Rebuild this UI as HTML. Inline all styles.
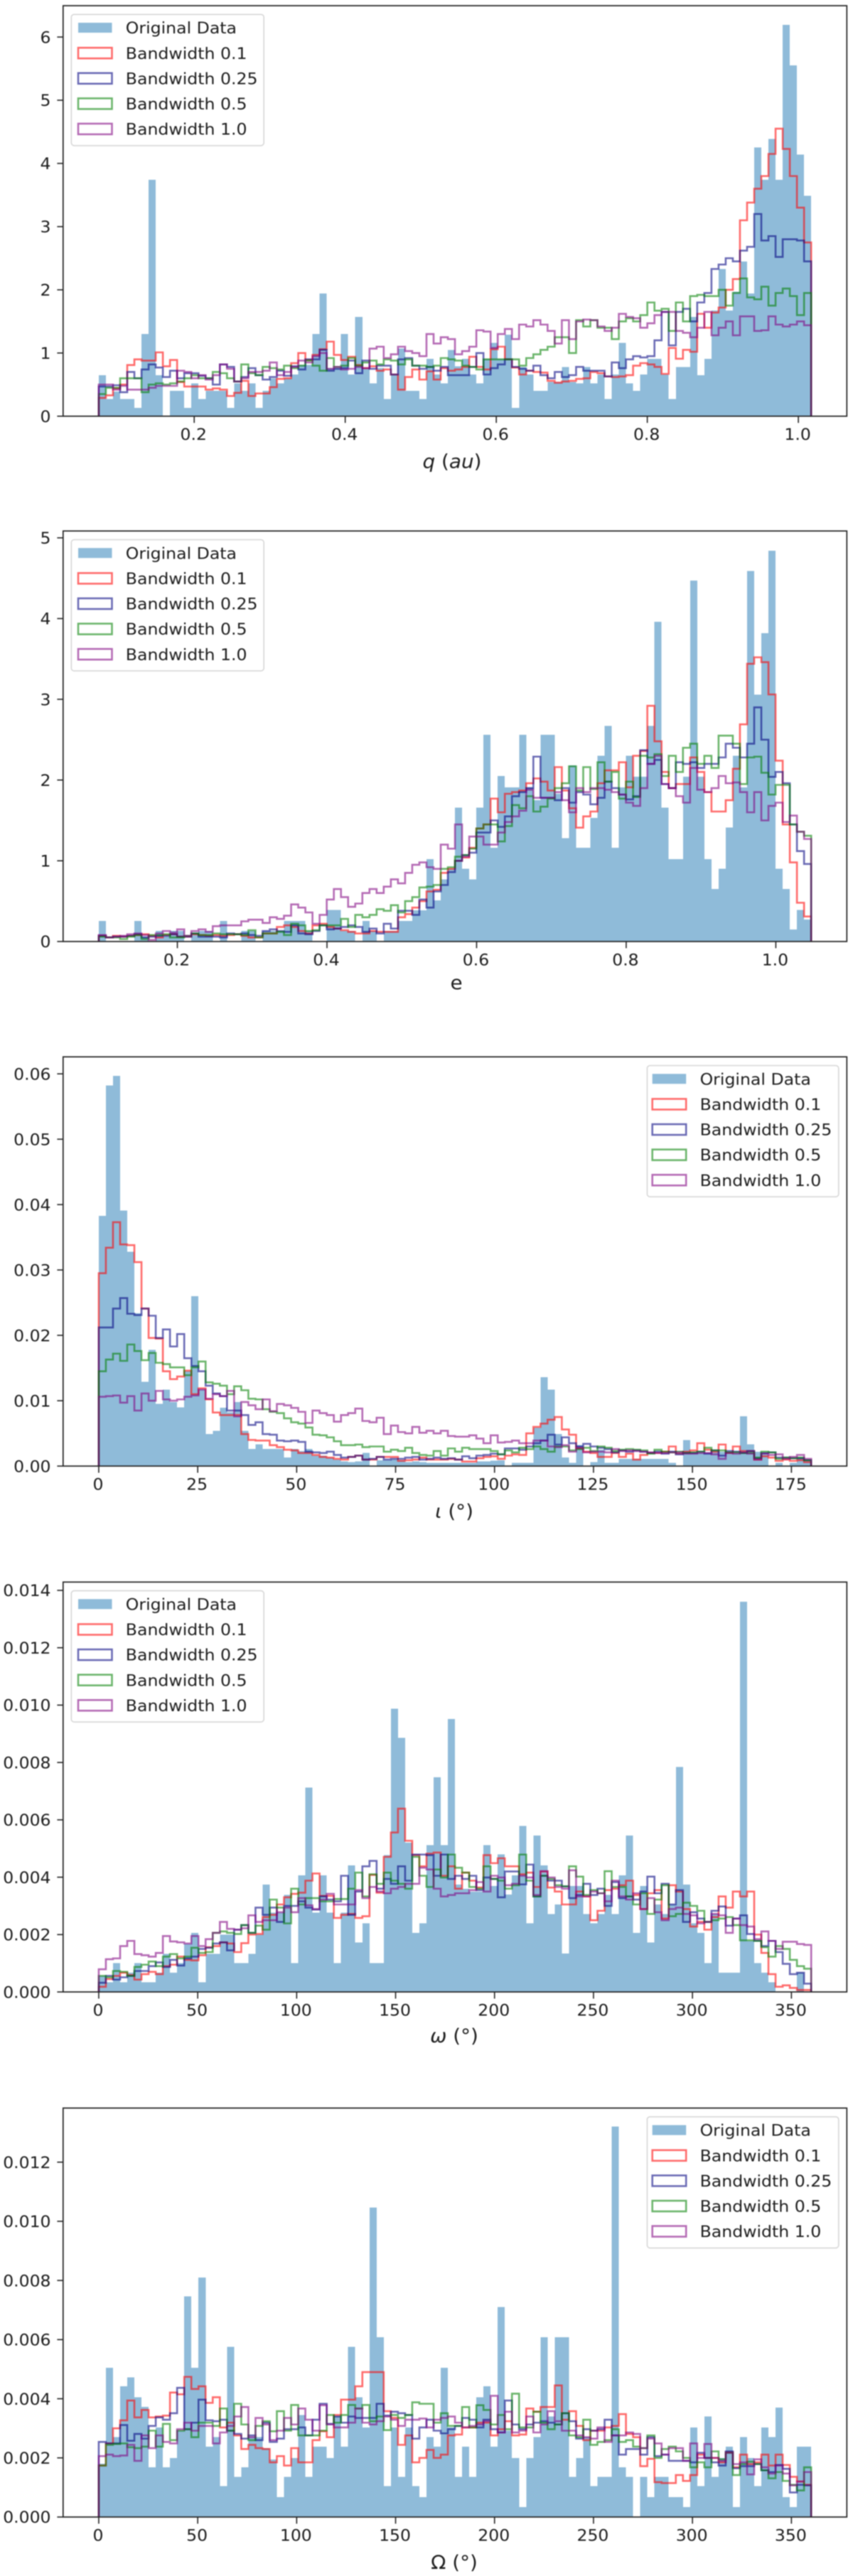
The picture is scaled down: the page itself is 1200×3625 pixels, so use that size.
<!DOCTYPE html>
<html lang="en">
<head>
<meta charset="utf-8">
<title>KDE bandwidth comparison histograms</title>
<style>
html,body{margin:0;padding:0;background:#fff;}
#chart{display:block;filter:blur(.7px);}
text{font-family:"DejaVu Sans","Liberation Sans",sans-serif;fill:#1c1c1c;}
</style>
</head>
<body>
<svg id="chart" xmlns="http://www.w3.org/2000/svg" width="1200" height="3625" viewBox="0 0 1200 3625"></svg>
<script>
const legendLabels=["Original Data","Bandwidth 0.1","Bandwidth 0.25","Bandwidth 0.5","Bandwidth 1.0"];

/* q (au) */
const qRange=[0.0736,1.017];
const qTicksX=[0.2,0.4,0.6,0.8,1.0];
const qTickLabelsX=["0.2","0.4","0.6","0.8","1.0"];
const qTicksY=[0,1,2,3,4,5,6];
const qTickLabelsY=["0","1","2","3","4","5","6"];
const qData=[.65,.27,.39,.27,.27,.13,1.3,3.74,.65,0,
.4,.4,.13,.52,.27,.4,.4,.4,.13,.52,
.4,.52,.13,.4,.6,.52,.6,.66,.81,.81,
1.3,1.94,.76,.76,1.3,.66,1.57,.76,.52,.76,
.27,.66,1.07,.4,.4,.27,.91,.66,.52,1.05,
.79,.91,.66,.52,.91,1.16,.91,1.29,.13,.78,
.66,.4,.4,.54,.54,.78,.54,.52,.78,.52,
.66,.27,.66,1.16,.52,.4,.66,.91,.91,.66,
.27,.78,.78,1.57,.65,.91,1.67,2.33,1.67,1.97,
2.45,1.94,4.25,3.74,4.39,3.74,6.19,5.55,4.14,3.49];
const qBw01=[.29,.33,.44,.5,.81,.9,.88,.88,1.01,.79,
.89,.54,.47,.47,.47,.42,.44,.42,.32,.37,
.56,.32,.36,.36,.46,.59,.6,.84,1,.89,
.97,1.06,1.18,.97,.89,.94,.81,.76,.79,.72,
.74,.66,.42,.62,.74,.58,.71,.58,.76,.72,
.74,.78,.94,.78,.74,1.06,1.1,.9,.77,.66,
.72,.7,.69,.56,.53,.55,.56,.59,.6,.7,
.68,.63,.62,.63,.65,.8,.84,.82,.78,.67,
1.08,.91,1.05,1.02,1.62,1.4,1.64,1.72,2,2.17,
3.1,3.38,3.6,3.8,4.15,4.55,4.23,3.8,3.3,2.75];
const qBw025=[.47,.47,.49,.38,.7,.6,.74,.82,.77,.62,
.72,.6,.68,.68,.64,.6,.5,.82,.78,.55,
.62,.76,.65,.58,.62,.72,.64,.79,.74,.9,
.9,1.05,.72,.75,.76,.88,.68,.88,.75,.8,
.8,.66,.9,.92,.8,.75,.78,.72,.78,.65,
.65,.65,.78,1,.66,.76,.82,.9,.78,.75,
.72,.8,.65,.6,.7,.62,.65,.78,.72,.72,
.72,.63,.85,.76,.9,.95,.93,.95,1.2,1.65,
1.12,1.65,1.7,1.5,1.8,1.95,2.33,2.4,2.5,2.45,
2.62,2.68,3.2,2.78,2.85,2.52,2.8,2.8,2.78,2.45];
const qBw05=[.35,.45,.45,.6,.6,.6,.38,.5,.52,.5,
.52,.55,.6,.65,.6,.6,.7,.68,.6,.55,
.82,.68,.65,.78,.76,.74,.8,.76,.8,.88,
.8,.72,.92,.78,.8,.92,.8,.85,.88,.82,
.9,.88,.82,.9,.8,.8,.78,.8,.92,.9,
.88,.8,.78,.74,.9,.9,.9,.9,.9,.8,
.92,.98,1.05,1.1,1.25,1.25,1,1.52,1.42,1.52,
1.4,1.4,1.22,1.5,1.55,1.5,1.6,1.8,1.67,1.7,
1.35,1.8,1.5,1.9,1.92,1.9,1.9,2,1.75,1.95,
2.18,1.88,1.85,2.05,1.75,1.95,2.02,1.9,1.6,1.95];
const qBw10=[.5,.5,.42,.48,.42,.42,.42,.45,.48,.48,
.48,.72,.7,.6,.65,.58,.65,.82,.75,.55,
.6,.7,.7,.72,.85,.65,.7,.78,.88,.85,
.95,1,.75,.78,.74,.75,.78,.76,1.07,1.1,
.92,.98,1.1,1.03,1,.95,1.3,1.15,1.25,1.22,
.98,1.03,1.1,1.36,1.34,1.08,1.3,1.38,1.22,1.45,
1.42,1.52,1.45,1.35,1.15,1.52,1.22,1.5,1.53,1.52,
1.42,1.35,1.4,1.62,1.57,1.55,1.4,1.47,1.6,1.65,
1.65,1.35,1.32,1.25,1.4,1.65,1.28,1.4,1.5,1.28,
1.58,1.58,1.35,1.36,1.58,1.45,1.42,1.45,1.5,1.44];

/* e */
const eRange=[0.0949,1.0473];
const eTicksX=[0.2,0.4,0.6,0.8,1.0];
const eTickLabelsX=["0.2","0.4","0.6","0.8","1.0"];
const eTicksY=[0,1,2,3,4,5];
const eTickLabelsY=["0","1","2","3","4","5"];
const eData=[.255,0,0,0,0,.255,.06,0,.13,.06,
.13,.13,0,.1,.13,.13,0,.255,0,0,
.13,.13,0,.13,.13,.13,.255,.255,.255,.13,
0,0,.39,.39,.13,.13,0,.255,.13,0,
.13,.13,.255,.255,.385,.385,1.02,.51,.77,.9,
1.66,.9,.77,1.66,2.56,1.16,2.05,1.91,1.91,2.56,
1.91,1.75,2.56,2.56,1.83,1.28,2.18,1.16,1.16,1.53,
2.3,2.67,1.16,1.91,2.3,2.04,2.04,2.67,3.96,1.66,
1.02,1.02,2.04,4.47,2.04,1.02,.65,.9,1.41,2.3,
1.91,4.59,3.06,3.82,4.84,.9,.65,.15,.39,.27];
const eBw01=[.07,.05,.07,.06,.07,.08,.09,.07,.05,.08,
.09,.06,.06,.09,.08,.07,.08,.07,.08,.09,
.07,.05,.05,.1,.1,.18,.2,.18,.13,.1,
.2,.22,.18,.16,.14,.12,.1,.1,.13,.12,
.12,.12,.3,.34,.42,.5,.62,.64,.85,.9,
1,1.04,1.16,1.4,1.45,1.77,1.6,1.83,1.85,1.87,
1.96,2.02,1.98,1.87,2.16,1.87,1.65,1.41,1.55,1.61,
1.96,2.12,2.12,2.22,1.91,2.3,2.36,2.92,2.48,2.1,
1.9,1.95,1.95,2.28,2.1,1.85,1.61,1.61,1.75,2.14,
2.69,3.44,3.52,3.46,3.06,2.24,1.45,.98,.48,.31];
const eBw025=[.07,.05,.06,.06,.07,.09,.05,.06,.07,.07,
.09,.06,.06,.1,.06,.06,.06,.05,.1,.09,
.1,.08,.07,.13,.15,.13,.12,.2,.1,.09,
.13,.2,.15,.16,.18,.2,.18,.12,.16,.1,
.22,.16,.38,.38,.33,.52,.42,.62,.7,.86,
1,1.07,1.1,1.35,1.35,1.5,1.42,1.55,1.8,1.85,
1.9,2.29,1.78,1.78,1.75,1.9,1.72,1.85,1.82,1.7,
1.78,1.98,1.9,1.82,1.76,1.8,2.37,2.2,2.25,1.95,
1.9,2.22,2.2,2.22,2.15,2.2,2.2,2.28,2.45,2.4,
2.28,2.45,2.9,2.5,2.04,2.1,1.96,1.45,1.12,.96];
const eBw05=[.06,.05,.05,.03,.06,.08,.03,.08,.08,.09,
.05,.05,.07,.1,.08,.08,.1,.09,.09,.09,
.08,.14,.05,.1,.1,.12,.08,.22,.2,.13,
.14,.2,.2,.2,.28,.18,.33,.3,.33,.4,
.38,.45,.36,.5,.55,.67,.68,.7,.9,.92,
1.05,1.07,1.15,1.4,1.45,1.45,1.24,1.43,1.69,1.65,
1.8,1.61,1.67,1.77,1.9,1.96,2.17,1.87,2.16,1.89,
2.22,1.98,2.1,1.77,1.98,1.79,2.3,2.28,2.32,2.05,
2.3,2.1,2.4,2.45,2.2,2.3,2.15,2.55,2.55,2.45,
1.95,2.28,2.29,2.09,1.82,1.94,1.94,1.45,1.36,1.31];
const eBw10=[.08,.05,.06,.07,.09,.1,.08,.02,.1,.13,
.11,.15,.07,.13,.15,.12,.19,.2,.2,.2,
.25,.27,.27,.23,.3,.28,.32,.46,.42,.36,
.22,.33,.52,.65,.55,.43,.47,.6,.65,.6,
.68,.77,.72,.85,.95,.98,.92,.9,1.2,1.15,
1.45,1.05,1.3,1.3,1.2,1.2,1.35,1.48,1.55,1.62,
1.88,1.78,1.78,1.78,1.85,1.75,1.6,1.9,1.85,1.9,
1.9,1.88,1.85,1.82,1.72,1.68,1.9,2.2,2.3,1.95,
1.9,1.8,1.72,2.15,1.88,1.85,1.9,2.05,1.96,1.97,
1.85,1.6,1.85,1.5,1.68,1.72,1.48,1.56,1.36,1.27];

/* inclination, series values in units of 0.001 */
const iRange=[0,180];
const iTicksX=[0,25,50,75,100,125,150,175];
const iTickLabelsX=["0","25","50","75","100","125","150","175"];
const iTicksY=[0,0.01,0.02,0.03,0.04,0.05,0.06];
const iTickLabelsY=["0.00","0.01","0.02","0.03","0.04","0.05","0.06"];
const iData=[38.3,58.2,59.7,39.1,32.8,23.4,12.9,17.8,9.5,11.7,
9.8,9,14.5,26,11.7,4.9,5.4,8.9,8.2,9.8,
5.4,2.6,3.3,2.6,2.6,2.6,1.3,2.6,2.3,2.6,
1.6,1.6,1.3,1,.7,.6,.7,2,0,.9,
.9,1,.9,.6,.7,.6,.5,.5,.5,.5,
.5,.5,.5,.7,.7,.8,.9,0,.5,.5,
.5,5.9,13.6,11.7,4.9,1.3,.5,3.2,0,.6,
2.5,.5,.5,1.1,1.1,1.1,1.1,1.1,1.1,1.1,
.5,0,4,2,2,2,2.2,2.2,2.2,2,
7.6,3.3,2.2,2,0,.5,0,.5,1.3,1];
const iBw01=[29.5,33.4,37.3,33.9,33.8,31.2,24.1,19.6,19.5,14.5,
13.3,13.7,14.6,11,11.9,10.2,8.2,7.8,7.8,7.8,
4.9,4,3.9,3.9,3.2,2.9,2.5,2.4,2,2,
1.7,1.4,1.3,1.1,1,1.4,1.6,1,1,1.4,
1.4,1.4,.8,.9,1,1.3,1,1,1,1.1,
1,.7,.7,1.2,1.4,1.5,1.1,1.6,1.8,1.7,
5,6,6.5,7.1,7.5,5.6,4.8,2.7,2.2,2,
1.4,1.4,2,1.4,1.9,1,1.7,2,2,2.2,
3,1.9,2.2,2.4,3.5,2.5,2.2,3.3,2,3,
2.3,2.3,1,1.5,1.3,.8,1,.8,.9,.6];
const iBw025=[21.2,21.2,24.1,25.7,23.3,23.1,24.1,23,19.6,20.9,
18.3,20.2,16.5,15.3,14.5,12.3,11.1,10.7,8.5,8.5,
7.8,6.3,6.7,4.9,4.8,3.9,3.8,3.9,3.7,2.2,
2.1,2,2.2,1.7,1.3,1.4,1.6,1,1.1,1.4,
1,1.1,1.1,1.3,1.4,1,1.1,1.3,1.1,1.2,
1,1.5,1.2,1.6,1.7,1.9,1.8,2.7,2.7,2.5,
3,3.5,3.9,4.8,3.3,4.4,3.5,3,3.4,3,
2.8,2.6,2.1,2.4,2.2,2.4,2.2,2,2.2,1.9,
2.2,1.8,2,2,2.2,1.9,2.4,1.6,2.3,2.2,
2,2.3,1.2,2,2.1,1.3,1.3,1.2,1.2,.9];
const iBw05=[14.5,16.3,17.2,16.1,18.6,17.6,16.2,17.3,15.8,15.6,
15.1,15.1,13.9,15.1,16,12.8,12.6,12.3,11,12.2,
11.6,10.3,10.2,8.7,8.3,8.1,7.3,6.7,6.5,5.9,
4.8,4.7,4.4,3.8,3.2,3.2,3.3,2.9,3,3,
2.2,2.5,2.3,2.8,2,1.7,1.6,2.3,1.6,2.7,
2.2,2.8,2.6,2.6,2.6,2.3,1.8,2.4,2.1,2.8,
2.6,3,2.6,2.2,3,3,2.4,2.6,2.8,2.3,
3,2.8,2.3,2.5,2.6,2.5,2.4,1.9,2.5,2.2,
2.1,2.2,2,2.1,2.2,2.8,2.4,2.4,2.1,2.1,
2,2,1.3,2.2,2.1,1.1,1.3,1.2,1.3,.9];
const iBw10=[10.6,10.7,10.8,9.7,10.7,8.5,11.1,10,11.5,10.2,
10,10.2,10.6,10.8,11.7,10.3,11,10.7,11.5,7.6,
9.8,9.3,8.7,10.2,8.4,9.5,9.3,8.9,8.3,6.6,
8.5,8.1,7.8,6.8,7.8,8.1,8.8,6.9,6.7,7.4,
4.9,6.2,5.2,5,6,5.1,5.4,5,5.4,4.6,
4.5,4.5,4.7,4.2,3.5,4.7,3.6,3.7,3.9,3.5,
3.5,3.9,3.9,3,2.9,3.2,2.2,2.8,2.1,2.2,
2.2,2.1,2.6,2.3,2.4,2.3,2.2,2.1,2,2,
2.1,2.1,1.9,1.9,2,2,1.8,1.1,2,1.9,
2.1,1.9,1,1.9,1.7,1.8,1.1,1.4,1.7,1.1];

/* argument of perihelion, series values in units of 0.001 */
const wRange=[0,360];
const wTicksX=[0,50,100,150,200,250,300,350];
const wTickLabelsX=["0","50","100","150","200","250","300","350"];
const wTicksY=[0,0.002,0.004,0.006,0.008,0.01,0.012,0.014];
const wTickLabelsY=["0.000","0.002","0.004","0.006","0.008","0.010","0.012","0.014"];
const wData=[.56,.34,1,.34,.67,1,.34,.34,.67,1.33,
.67,1,1.67,2.06,.34,1.33,1.33,2,2,1,
1,1.33,2,3.74,2.76,2.76,3.38,1,4.07,7.13,
2.76,4.07,2.76,1,2.76,4.41,1.73,2.39,1,1,
4.77,9.87,8.86,5.2,2.06,2.39,5.12,7.48,5.12,9.52,
3.74,3.6,3.5,3.5,5.12,3.7,4.8,3.4,4.07,5.79,
2.39,5.45,4.41,2.72,3.05,1.34,3.7,3.7,2.72,2.39,
2.72,3.38,2.72,4.07,5.45,2.06,3.7,1.73,3.05,2.72,
3.05,7.84,3.74,2.39,2.06,1,2.72,.67,.67,.67,
13.6,1.78,1,.67,.34,0,0,0,.67,0];
const wBw01=[.18,.45,.56,.67,.59,.43,.62,.7,.62,.9,
.95,1.23,1.12,1.1,1.28,1.56,1.6,1.73,1.69,1.39,
1.7,2,2.02,2.61,2.69,3.05,3.3,3.42,3.46,3.88,
4.13,3.35,3.35,2.58,2.69,2.72,2.58,2.64,4.08,3.46,
4.71,5.56,6.39,5.27,4.77,4.38,4.82,4.86,4.05,4.38,
3.6,4.16,3.88,3.64,4.77,4.49,4.66,4.38,4.38,4.1,
4.16,3.66,4.2,3.64,3.5,3.05,3.05,3.5,3.33,2.5,
2.83,3.55,3.6,3.72,3.88,3.38,2.89,3.44,3.55,2.56,
3.72,3.5,2.89,2.28,2.44,2.17,2.61,3.33,2.94,3.5,
3.33,3.5,2,1.36,.62,.18,.23,.14,.07,.07];
const wBw025=[.32,.56,.43,.51,.56,.73,.73,.9,1.03,.87,
1.12,.92,1.17,1.23,1.5,1.54,1.69,1.73,1.45,2.17,
2.33,2.06,2.94,2.69,2.94,2.44,3,3,3.16,2.94,
2.87,3.33,3.22,3.16,4.05,2.69,3.5,4.38,4.57,3.6,
3.94,3.77,4.38,3.88,4.79,4.79,4.77,4.05,4.79,3.94,
4.05,3.94,4.05,3.55,3.99,3.94,3.3,4.2,4.2,3.75,
4.44,3.33,4.05,3.88,3.88,3.68,3.27,3.38,3.77,3.38,
3.6,3,3.83,3.27,3.33,3.22,3.5,4.02,3.44,3.77,
3.05,3.55,2.44,2.78,2.56,2.44,2.83,2.98,2.31,2.56,
2.67,2.02,1.78,1.6,1.78,1.39,.98,.62,.67,.29];
const wBw05=[.56,.51,.73,.7,.56,.87,.95,1.06,.9,1.23,
1.32,1.17,1.23,1.54,1.36,1.39,2.06,2.11,2.06,2.02,
2.33,2.06,2.31,2.17,3.22,2.94,2.39,3.6,3.05,3.27,
3.27,3.16,3.16,3.24,3.24,3.6,4.16,3.33,4.1,3.77,
4.16,3.88,3.77,3.6,4.71,4.05,3.66,4.27,3.99,4.79,
4.33,4.16,3.66,3.6,4.38,3.94,3.88,3.6,3.72,4.79,
3.88,3.33,4.05,3.94,3.72,3.68,4.38,4.02,3.38,3.55,
3.44,4.21,3.66,3.66,3.33,3.05,3.44,2.72,3.22,3.72,
2.64,2.72,3.11,3,2.83,2.44,2.5,2.56,2.61,2.33,
1.8,1.8,1.78,1.56,1.23,1.6,1.5,1.12,.9,.81];
const wBw10=[.79,1.14,1.17,1.6,1.78,1.32,1.28,1.23,1.36,1.95,
1.76,1.73,1.69,1.95,1.6,1.84,2.06,2.44,2.2,2.17,
2.22,2.67,2.44,2.5,2.5,2.78,2.94,2.78,3.27,3.02,
2.89,3.22,3.42,3.05,3.05,3.05,3.55,3.27,3.66,3.5,
3.44,3.6,3.66,3.77,3.77,4.33,4.27,3.6,3.33,3.38,
3.44,3.44,3.55,3.83,3.5,4.05,3.99,3.72,3.77,4.05,
3.99,3.38,4.21,3.99,3.66,3.6,4.24,3.33,3.33,3.5,
3.44,3.16,3.88,3.33,3.22,3.44,2.89,3.27,2.78,2.5,
2.89,2.94,2.72,2.67,2.39,2.44,2.72,2.67,2.06,2.56,
2.33,2.28,1.84,2.11,1.78,1.5,1.75,1.75,1.67,1.64];

/* longitude of node, series values in units of 0.001 */
const oRange=[0,360];
const oTicksX=[0,50,100,150,200,250,300,350];
const oTickLabelsX=["0","50","100","150","200","250","300","350"];
const oTicksY=[0,0.002,0.004,0.006,0.008,0.01,0.012];
const oTickLabelsY=["0.000","0.002","0.004","0.006","0.008","0.010","0.012"];
const oData=[1.8,5.05,2.7,4.42,4.72,4.05,3.72,1.68,3.03,1.68,
2,2.92,7.46,5.05,8.1,2.38,2.7,1.04,5.76,1.36,
1.68,2.7,2.7,2.33,1.95,.67,1.36,2,3.45,1.36,
2.38,2.38,2,3.4,2.38,5.76,4.05,3.03,10.46,6.08,
1.04,3.03,1.36,3.03,1.04,.67,2.7,2.38,5.05,3.03,
1.36,2.38,1.36,4.05,4.42,2.38,7.1,2.92,2,.34,
2,2.7,6.08,3.4,6.08,6.08,1.36,2,2.7,1.04,
1.36,1.36,13.2,1.68,1.36,0,1.36,.67,1.36,1.36,
.67,.67,.34,3.03,1.04,3.4,1.36,2,2.38,.34,
2.7,2,1.04,3.03,2.7,3.7,.67,.34,2.38,2.38];
const oBw01=[1.74,2.49,3,3.27,3.94,3.37,3.62,3.37,3.4,3.43,
4.21,4.15,4.74,4.33,4.42,3.86,4.05,3.03,3.19,2.76,
2.3,2.44,2.33,2.3,1.85,2.06,1.74,2.33,1.85,1.85,
2.6,2.9,2.7,3.45,3.97,3.97,4.42,4.9,4.9,4.9,
3.58,3.35,2.44,2.76,1.85,2,2.27,2,2.11,2.76,
2.79,3.03,3.03,3.19,3.19,2.76,2.97,3.24,2.76,2.79,
3.67,3.56,3.72,3.72,4.45,3.29,3.58,3.08,2.6,2.92,
2.92,3.03,3.08,3.48,2.81,2.7,1.72,1.97,1.18,1.15,
1.15,1.42,1.22,1.42,2.11,2,2,1.85,2.19,1.68,
2.11,1.79,1.85,2.11,1.74,2.11,1.76,1.36,1.2,1.09];
const oBw025=[2.54,2.49,2.49,3.11,2.58,2.81,2.65,3.08,3.37,3.29,
3.51,4.37,2.97,3.19,3.97,3.27,3.24,3.29,2.92,2.81,
2.65,2.76,2.6,3.19,2.54,2.65,2.97,2.97,3.03,2.76,
3.29,3.83,3.15,3.4,3.19,3.4,3.35,3.35,3.35,3.83,
3.43,3.56,3.51,3.45,2.65,3.03,3.29,2.92,2.83,2.97,
3.08,3.35,3.29,3.03,3.29,2.97,2.86,3.94,3.13,2.97,
3.13,3.19,3.24,3.19,3.13,3.51,3.24,2.65,2.97,2.92,
2.97,3.29,2.76,2.11,2.3,2.3,2.11,2.7,2.06,2.11,
1.9,1.9,1.9,1.85,2.17,2,1.85,1.74,2.22,1.65,
1.72,1.72,1.79,1.58,1.52,1.76,1.63,.83,1.09,1.07];
const oBw05=[1.74,2.44,2.47,2.49,2.36,2.33,2.38,2.92,2.38,3.15,
2.6,2.92,2.97,2.7,3.19,3.19,3.08,3.67,2.92,3.83,
3.13,2.6,3.08,3.24,2.9,3.58,2.92,3.79,2.76,2.76,
2.76,2.92,3.45,3.19,3.45,3.79,3.67,3.79,3.24,3.4,
2.94,3.45,3.35,3.45,3.88,3.83,3.83,3.19,3.51,3.08,
3.08,3.72,3.03,3.78,3.62,3.13,3.45,2.97,4.17,3.03,
3.03,3.56,3.19,2.97,3.13,3.51,2.76,2.7,3.29,2.44,
2.54,2.6,2.97,2.54,2.6,2.38,2.33,2.76,2,2.3,
2.38,2.22,2,1.68,1.85,1.68,2.22,1.95,2.17,1.42,
1.79,1.87,1.79,1.58,1.31,1.52,1.22,1.09,.9,1.68];
const oBw10=[2.06,2.11,2.06,2.08,2.44,1.9,2.76,2.33,2.76,2.54,
2.49,2.97,3.19,2.92,3.08,3.08,2.49,2.86,3.08,3.4,
3.72,2.7,3.35,3.13,2.6,2.92,3.35,3.13,3.67,3.29,
2.92,3.78,3.13,3.03,3.03,3.19,3.67,3.19,3.13,3.24,
3.4,3.29,3.08,3.29,3.29,3.33,3.03,3.29,3.35,3.4,
3.19,3.03,3.08,3.13,3.24,4.1,2.86,3.56,2.86,2.92,
3.4,2.86,3.13,3.58,3.24,2.92,2.92,2.76,2.7,2.65,
3.03,2.54,2.76,2.76,2.86,2.81,2.33,2.65,2.49,2.11,
2.33,2.33,1.9,2.49,2,2.47,2,1.9,2.17,1.79,
1.85,1.44,1.95,1.68,1.47,1.74,1.47,1.07,1.2,1.52];

const seriesColors=["red","navy","green","purple"];
const seriesSlugs=["bandwidth-0-1","bandwidth-0-25","bandwidth-0-5","bandwidth-1-0"];
const BAR_COLOR="#8fbbd9";
const LINE_ALPHA=0.58;
const AX_LEFT=88.8, AX_W=1102.5;
const TICK_FONT=22.4, LEGEND_FONT=22.5, TITLE_FONT=26.5, STRETCH=1.05;

const panels=[
 {slug:"q",top:8,bottom:585.7,yMax:6.496,unit:1,range:qRange,tx:qTicksX,txl:qTickLabelsX,ty:qTicksY,tyl:qTickLabelsY,bars:qData,lines:[qBw01,qBw025,qBw05,qBw10],legendRight:false,
  title:[["q",1],[" (",0],["au",1],[")",0]],titleX:636,titleDy:72.8},
 {slug:"e",top:747.2,bottom:1324.9,yMax:5.085,unit:1,range:eRange,tx:eTicksX,txl:eTickLabelsX,ty:eTicksY,tyl:eTickLabelsY,bars:eData,lines:[eBw01,eBw025,eBw05,eBw10],legendRight:false,
  title:[["e",0]],titleX:642,titleDy:67},
 {slug:"inclination",top:1487.2,bottom:2063.1,yMax:0.0626,unit:0.001,range:iRange,tx:iTicksX,txl:iTickLabelsX,ty:iTicksY,tyl:iTickLabelsY,bars:iData,lines:[iBw01,iBw025,iBw05,iBw10],legendRight:true,
  title:[["ι",1],[" (°)",0]],titleX:639,titleDy:73},
 {slug:"omega-lower",top:2226.3,bottom:2803.1,yMax:0.01429,unit:0.001,range:wRange,tx:wTicksX,txl:wTickLabelsX,ty:wTicksY,tyl:wTickLabelsY,bars:wData,lines:[wBw01,wBw025,wBw05,wBw10],legendRight:false,
  title:[["ω",1],[" (°)",0]],titleX:639,titleDy:71},
 {slug:"omega-upper",top:2966.5,bottom:3542,yMax:0.01383,unit:0.001,range:oRange,tx:oTicksX,txl:oTickLabelsX,ty:oTicksY,tyl:oTickLabelsY,bars:oData,lines:[oBw01,oBw025,oBw05,oBw10],legendRight:true,
  title:[["Ω",0],[" (°)",0]],titleX:639,titleDy:73}
];

const NS="http://www.w3.org/2000/svg";
const root=document.getElementById("chart");
function mk(tag,attrs,parent){
  const el=document.createElementNS(NS,tag);
  for(const k in attrs){el.setAttribute(k,attrs[k]);}
  parent.appendChild(el);
  return el;
}
function label(parent,x,y,anchor,content,size){
  const t=mk("text",{transform:"translate("+x+","+y+") scale("+STRETCH+",1)","text-anchor":anchor,"font-size":size},parent);
  t.textContent=content;
  return t;
}

panels.forEach(function(p){
  const g=mk("g",{},root);
  
  

  const span=p.range[1]-p.range[0];
  const dMin=p.range[0]-0.05*span, dMax=p.range[1]+0.05*span;
  const xAxis=function(v){return AX_LEFT+(v-dMin)/(dMax-dMin)*AX_W;};
  const yAxis=function(v){return p.bottom-v/p.yMax*(p.bottom-p.top);};
  const binEdge=function(i){return xAxis(p.range[0]+span*i/p.bars.length);};

  const barsG=mk("g",{"shape-rendering":"crispEdges"},g);
  
  
  p.bars.forEach(function(v,i){
    const yTop=yAxis(v*p.unit);
    const r=mk("rect",{x:binEdge(i),y:yTop,width:binEdge(i+1)-binEdge(i),height:p.bottom-yTop,fill:BAR_COLOR},barsG);
    
    
  });

  p.lines.forEach(function(vals,s){
    let d="M"+binEdge(0).toFixed(2)+" "+yAxis(0).toFixed(2);
    vals.forEach(function(v,i){
      const y=yAxis(v*p.unit).toFixed(2);
      d+="L"+binEdge(i).toFixed(2)+" "+y+"L"+binEdge(i+1).toFixed(2)+" "+y;
    });
    d+="L"+binEdge(vals.length).toFixed(2)+" "+yAxis(0).toFixed(2);
    const path=mk("path",{d:d,fill:"none",stroke:seriesColors[s],"stroke-opacity":LINE_ALPHA,"stroke-width":2.6,"stroke-linejoin":"miter"},g);
    
    
  });

  const frame=mk("rect",{x:AX_LEFT,y:p.top,width:AX_W,height:p.bottom-p.top,fill:"none",stroke:"#222","stroke-width":1.7},g);
  
  

  const xG=mk("g",{},g);
  
  
  p.tx.forEach(function(v,i){
    const x=xAxis(v);
    const tick=mk("line",{x1:x,x2:x,y1:p.bottom,y2:p.bottom+9.4,stroke:"#222","stroke-width":1.6},xG);
    
    
    const t=label(xG,x-1,p.bottom+33.5,"middle",p.txl[i],TICK_FONT);
    
    
  });

  const yG=mk("g",{},g);
  
  
  p.ty.forEach(function(v,i){
    const y=yAxis(v);
    const tick=mk("line",{x1:AX_LEFT-8.4,x2:AX_LEFT,y1:y,y2:y,stroke:"#222","stroke-width":1.6},yG);
    
    
    const t=label(yG,71.5,y+8.2,"end",p.tyl[i],TICK_FONT);
    
    
  });

  const title=mk("text",{transform:"translate("+p.titleX+","+(p.bottom+p.titleDy)+") scale("+STRETCH+",1)","text-anchor":"middle","font-size":TITLE_FONT},g);
  
  
  p.title.forEach(function(part){
    const ts=mk("tspan",{"font-style":part[1]?"italic":"normal"},title);
    ts.textContent=part[0];
  });

  const legX=p.legendRight?910.4:100.3;
  const legY=p.top+12.3;
  const hX=legX+(p.legendRight?7.3:9.7);
  const tX=legX+(p.legendRight?74.2:76.5);
  const legend=mk("g",{},g);
  
  
  const box=mk("rect",{x:legX,y:legY,width:p.legendRight?269.4:270.9,height:184.6,rx:4,fill:"#fff","fill-opacity":0.8,stroke:"#d6d6d6","stroke-width":1.6},legend);
  
  
  legendLabels.forEach(function(txt,i){
    const cy=p.top+31+35.6*i;
    const entry=mk("g",{},legend);
    
    
    let handle;
    if(i===0){
      handle=mk("rect",{x:hX,y:cy-7,width:47.5,height:14,fill:BAR_COLOR},entry);
    }else{
      handle=mk("rect",{x:hX,y:cy-7.4,width:47.5,height:15,fill:"none",stroke:seriesColors[i-1],"stroke-opacity":LINE_ALPHA,"stroke-width":2.6},entry);
    }
    
    
    const t=label(entry,tX,cy+8.2,"start",txt,LEGEND_FONT);
    
    
  });
});
</script>
</body>
</html>
